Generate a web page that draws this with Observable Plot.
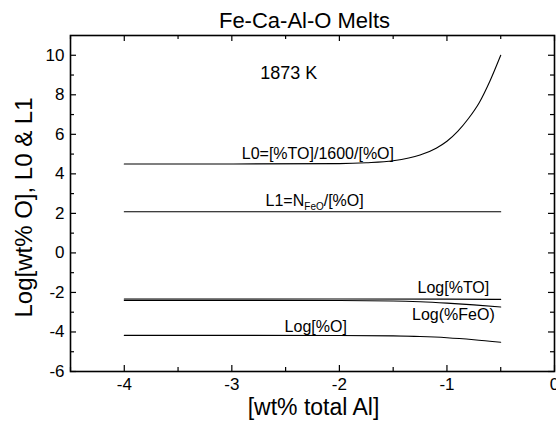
<!DOCTYPE html>
<html><head><meta charset="utf-8">
<script src="https://cdn.jsdelivr.net/npm/d3@7"></script>
<script src="https://cdn.jsdelivr.net/npm/@observablehq/plot@0.6"></script>
<style>
body{margin:0;background:#fff;}
svg{display:block;}
</style>
</head><body><div id="chart"></div>
<script>
// ---- data ----
const title = "Fe-Ca-Al-O Melts";
const xLabel = "[wt% total Al]";
const yLabel = "Log[wt% O], L0 & L1";
const xTicks = [-4, -3, -2, -1, 0];
const xMinor = [-4.5, -3.5, -2.5, -1.5, -0.5];
const yTicks = [-6, -4, -2, 0, 2, 4, 6, 8, 10];
const yMinor = [-5, -3, -1, 1, 3, 5, 7, 9];

const l0X = [-4, -3, -2, -1.75, -1.5, -1.25, -1.1, -1, -0.9, -0.8, -0.7, -0.6, -0.5];
const l0Y = [4.50, 4.50, 4.52, 4.56, 4.66, 4.95, 5.30, 5.65, 6.15, 6.80, 7.60, 8.70, 10.0];
const l1X = [-4, -3, -2, -1, -0.5];
const l1Y = [2.08, 2.08, 2.08, 2.08, 2.08];
const toX = [-4, -3, -2, -1, -0.5];
const toY = [-2.33, -2.33, -2.33, -2.34, -2.35];
const feoX = [-4, -3, -2, -1.5, -1.25, -1, -0.75, -0.5];
const feoY = [-2.40, -2.40, -2.41, -2.43, -2.47, -2.54, -2.63, -2.74];
const oX = [-4, -3, -2, -1.5, -1.25, -1, -0.75, -0.5];
const oY = [-4.17, -4.17, -4.18, -4.20, -4.23, -4.29, -4.39, -4.52];

const annoText = ["1873 K", "L0=[%TO]/1600/[%O]", "L1=N_FeO/[%O]", "Log[%TO]", "Log(%FeO)", "Log[%O]"];
const annoX = [-2.47, -2.20, -2.23, -0.94, -0.94, -2.22];
const annoY = [9.08, 5.03, 2.63, -1.75, -3.12, -3.72];
const annoSize = [18, 16, 16, 16, 16, 16];

// ---- build tables ----
const seriesList = [
  ["L0", l0X, l0Y], ["L1", l1X, l1Y], ["TO", toX, toY], ["FeO", feoX, feoY], ["O", oX, oY]
];
const rows = seriesList.flatMap(([s, xs, ys]) => xs.map((x, i) => ({series: s, x, y: ys[i]})));
const annos = annoText.map((t, i) => ({text: t, x: annoX[i], y: annoY[i], size: annoSize[i]}));

const W = 556, H = 421, mL = 70, mR = 2, mT = 35, mB = 50;
const pW = W - mL - mR, pH = H - mT - mB;
const fmt = d => String(d);

const chart = Plot.plot({
  width: W, height: H,
  marginLeft: mL, marginRight: mR, marginTop: mT, marginBottom: mB,
  style: {fontFamily: "'Liberation Sans', Arial, sans-serif", fontSize: "17px", color: "black", background: "white"},
  x: {domain: [-4.5, 0]},
  y: {domain: [-6, 11]},
  marks: [
    Plot.axisX(xTicks, {tickSize: 0, tickPadding: 6, fontSize: 17, tickFormat: fmt, label: null}),
    Plot.axisY(yTicks, {tickSize: 0, tickPadding: 6, fontSize: 17, tickFormat: fmt, label: null}),
    // inward ticks
    Plot.tickX(xTicks, {x: d => d, insetTop: pH - 6, stroke: "black", strokeWidth: 1.2}),
    Plot.tickX(xTicks, {x: d => d, insetBottom: pH - 6, stroke: "black", strokeWidth: 1.2}),
    Plot.tickX(xMinor, {x: d => d, insetTop: pH - 4, stroke: "black", strokeWidth: 1.2}),
    Plot.tickX(xMinor, {x: d => d, insetBottom: pH - 4, stroke: "black", strokeWidth: 1.2}),
    Plot.tickY(yTicks, {y: d => d, insetRight: pW - 6, stroke: "black", strokeWidth: 1.2}),
    Plot.tickY(yTicks, {y: d => d, insetLeft: pW - 6, stroke: "black", strokeWidth: 1.2}),
    Plot.tickY(yMinor, {y: d => d, insetRight: pW - 4, stroke: "black", strokeWidth: 1.2}),
    Plot.tickY(yMinor, {y: d => d, insetLeft: pW - 4, stroke: "black", strokeWidth: 1.2}),
    Plot.line(rows, {x: "x", y: "y", z: "series", stroke: "black", strokeWidth: 1.1, curve: "monotone-x"}),
    Plot.text(annos, {x: "x", y: "y", text: "text", fontSize: d => d.size, lineAnchor: "middle", textAnchor: "middle", fill: "black"}),
    Plot.frame({stroke: "black", strokeWidth: 1.6}),
    Plot.text([title], {frameAnchor: "top", dy: -15, dx: -8, fontSize: 22, textAnchor: "middle", lineAnchor: "middle", fill: "black"}),
    Plot.text([xLabel], {frameAnchor: "bottom", dy: 36, dx: 1, fontSize: 23, textAnchor: "middle", lineAnchor: "middle", fill: "black"}),
    Plot.text([yLabel], {frameAnchor: "left", rotate: -90, dx: -46, dy: 4, fontSize: 24, textAnchor: "middle", lineAnchor: "middle", fill: "black"})
  ]
});
document.getElementById("chart").appendChild(chart);

// subscript for N_FeO
chart.querySelectorAll("text").forEach(t => {
  if (t.textContent === "L1=N_FeO/[%O]") {
    const ns = "http://www.w3.org/2000/svg";
    t.textContent = "";
    const a = document.createElementNS(ns, "tspan"); a.textContent = "L1=N";
    const b = document.createElementNS(ns, "tspan"); b.textContent = "FeO";
    b.setAttribute("font-size", "10"); b.setAttribute("dy", "4");
    const c = document.createElementNS(ns, "tspan"); c.textContent = "/[%O]"; c.setAttribute("dy", "-4");
    t.append(a, b, c);
  }
});
</script>
</body></html>
